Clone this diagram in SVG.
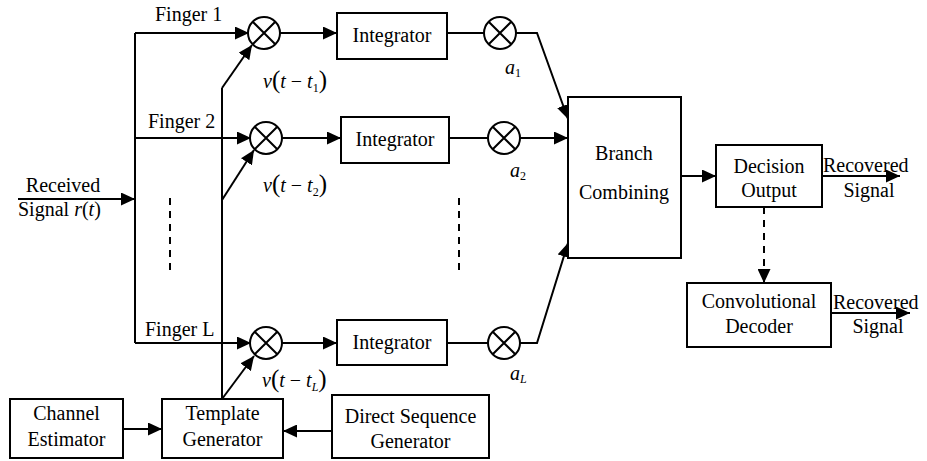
<svg xmlns="http://www.w3.org/2000/svg" width="927" height="461" viewBox="0 0 927 461">
<defs>
<marker id="ah" markerUnits="userSpaceOnUse" markerWidth="14" markerHeight="13" refX="14" refY="6.5" orient="auto">
<path d="M0,0 L14,6.5 L0,13 z" fill="#000"/>
</marker>
<style>
text{font-family:"Liberation Serif","Times New Roman",serif;font-size:20px;fill:#000}
.c{text-anchor:middle}
.i{font-style:italic}
.box{fill:#fff;stroke:#000;stroke-width:2}
.ln{fill:none;stroke:#000;stroke-width:2}
.ar{fill:none;stroke:#000;stroke-width:2;marker-end:url(#ah)}
.dash{fill:none;stroke:#000;stroke-width:2;stroke-dasharray:7 6}
.mul{fill:#fff;stroke:#000;stroke-width:2}
</style>
</defs>
<rect width="927" height="461" fill="#fff"/>

<g id="connectors">
<path class="ln" d="M135,33 V343"/>
<path class="ar" d="M18,199 H135"/>
<path class="ar" d="M135,33 H249"/>
<path class="ar" d="M135,138 H251"/>
<path class="ar" d="M135,343 H251"/>
<path class="ln" d="M222,88 V399"/>
<path class="ar" d="M222,88 L252,45"/>
<path class="ar" d="M222,200 L254,150"/>
<path class="ar" d="M222,399 L254,356"/>
<path class="ar" d="M280,33 H337"/>
<path class="ar" d="M282,138 H341"/>
<path class="ar" d="M282,343 H337"/>
<path class="ln" d="M447,33 H484"/>
<path class="ln" d="M449,138 H488"/>
<path class="ln" d="M447,343 H488"/>
<path class="ar" d="M516,33 H537 L568,119"/>
<path class="ar" d="M520,138 H568"/>
<path class="ar" d="M520,343 H537 L568,243"/>
<path class="ar" d="M681,176 H716"/>
<path class="ar" d="M822,176 H900"/>
<path class="dash" d="M764,207 V270"/>
<path class="ar" d="M764,270 V283"/>
<path class="ar" d="M831,313 H910"/>
<path class="ar" d="M123,429 H162"/>
<path class="ar" d="M332,431 H283"/>
<path class="dash" d="M170,198 V276"/>
<path class="dash" d="M459,198 V276"/>
</g>

<g id="received">
<text class="c" x="63" y="192">Received</text>
<text x="18" y="216">Signal <tspan class="i">r</tspan>(<tspan class="i">t</tspan>)</text>
</g>
<g id="finger-labels">
<text x="155" y="21">Finger 1</text>
<text x="148" y="128">Finger 2</text>
<text x="145" y="336">Finger L</text>
</g>

<g id="mult1"><circle class="mul" cx="264" cy="33" r="16"/><path class="ln" d="M252.7,21.7 L275.3,44.3 M275.3,21.7 L252.7,44.3"/></g>
<g id="mult2"><circle class="mul" cx="266" cy="138" r="16"/><path class="ln" d="M254.7,126.7 L277.3,149.3 M277.3,126.7 L254.7,149.3"/></g>
<g id="multL"><circle class="mul" cx="266" cy="343" r="16"/><path class="ln" d="M254.7,331.7 L277.3,354.3 M277.3,331.7 L254.7,354.3"/></g>

<g id="v1"><text x="263" y="88"><tspan class="i">v</tspan><tspan font-size="25">(</tspan><tspan class="i">t</tspan> − <tspan class="i">t</tspan><tspan font-size="12" dy="4">1</tspan><tspan font-size="25" dy="-4">)</tspan></text></g>
<g id="v2"><text x="263" y="192"><tspan class="i">v</tspan><tspan font-size="25">(</tspan><tspan class="i">t</tspan> − <tspan class="i">t</tspan><tspan font-size="12" dy="4">2</tspan><tspan font-size="25" dy="-4">)</tspan></text></g>
<g id="vL"><text x="262" y="387"><tspan class="i">v</tspan><tspan font-size="25">(</tspan><tspan class="i">t</tspan> − <tspan class="i">t</tspan><tspan font-size="12" dy="4" class="i">L</tspan><tspan font-size="25" dy="-4">)</tspan></text></g>

<g id="int1"><rect class="box" x="337" y="13" width="110" height="46"/><text class="c" x="392" y="42">Integrator</text></g>
<g id="int2"><rect class="box" x="341" y="117" width="108" height="46"/><text class="c" x="395" y="146">Integrator</text></g>
<g id="intL"><rect class="box" x="337" y="320" width="110" height="45"/><text class="c" x="392" y="349">Integrator</text></g>

<g id="a1m"><circle class="mul" cx="500" cy="33" r="16"/><path class="ln" d="M488.7,21.7 L511.3,44.3 M511.3,21.7 L488.7,44.3"/><text x="505" y="74" class="i">a<tspan font-size="12" dy="3" font-style="normal">1</tspan></text></g>
<g id="a2m"><circle class="mul" cx="504" cy="138" r="16"/><path class="ln" d="M492.7,126.7 L515.3,149.3 M515.3,126.7 L492.7,149.3"/><text x="510" y="177" class="i">a<tspan font-size="12" dy="3" font-style="normal">2</tspan></text></g>
<g id="aLm"><circle class="mul" cx="504" cy="343" r="16"/><path class="ln" d="M492.7,331.7 L515.3,354.3 M515.3,331.7 L492.7,354.3"/><text x="510" y="380" class="i">a<tspan font-size="12" dy="3">L</tspan></text></g>

<g id="branch"><rect class="box" x="568" y="97" width="113" height="161"/><text class="c" x="624" y="160">Branch</text><text class="c" x="624" y="199">Combining</text></g>
<g id="decision"><rect class="box" x="716" y="145" width="106" height="62"/><text class="c" x="769" y="173">Decision</text><text class="c" x="769" y="197">Output</text></g>
<g id="rec1"><text x="823" y="172">Recovered</text><text class="c" x="869" y="197">Signal</text></g>
<g id="conv"><rect class="box" x="687" y="283" width="144" height="64"/><text class="c" x="759" y="308">Convolutional</text><text class="c" x="759" y="333">Decoder</text></g>
<g id="rec2"><text x="833" y="309">Recovered</text><text class="c" x="878" y="333">Signal</text></g>

<g id="chan"><rect class="box" x="10" y="399" width="113" height="59"/><text class="c" x="66.5" y="420">Channel</text><text class="c" x="66.5" y="446">Estimator</text></g>
<g id="tmpl"><rect class="box" x="162" y="399" width="121" height="59"/><text class="c" x="222.5" y="420">Template</text><text class="c" x="222.5" y="446">Generator</text></g>
<g id="dsg"><rect class="box" x="332" y="395" width="157" height="63"/><text class="c" x="410.5" y="423">Direct Sequence</text><text class="c" x="410.5" y="448">Generator</text></g>
</svg>
